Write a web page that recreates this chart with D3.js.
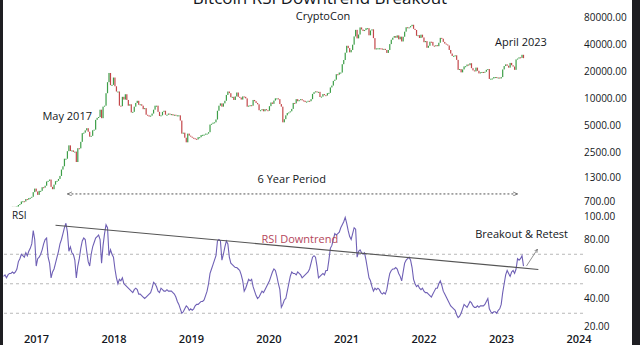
<!DOCTYPE html>
<html>
<head>
<meta charset="utf-8">
<script src="https://cdn.jsdelivr.net/npm/d3@7"></script>
<style>
  body { margin: 0; background: #fff; }
  svg { display: block; font-family: "Open Sans", sans-serif; }
</style>
</head>
<body>
<div id="chart"></div>
<script>
// weekly candles, first week starts on this monday
const weekStart = "2016-08-01";
const firstOpen = 600;

// weekly closes (USD), one row per year
const closes = [
  590, 570, 580, 575, 608, 608, 610, 605, 610, 615, 640, 655, 700, 705, 700, 745, 735, 765, 770, 790, 890, 975,
  905, 830, 920, 920, 1010, 1000, 1050, 1170, 1190, 1230, 1020, 960, 1080, 1180, 1190, 1250, 1350, 1590, 1730, 2100, 2100, 2550,
  2960, 2560, 2600, 2500, 2520, 1930, 2750, 2740, 3240, 4050, 4100, 4350, 4600, 4200, 3700, 3780, 4360,
  4430, 5700, 6000, 6130, 7400, 5950, 8000, 8200, 11300, 15000, 19000, 13900, 14000,
  16900, 13500, 11800, 11800, 8200, 8100, 10300, 9600, 11000, 9500, 8200, 8500, 6900, 7000, 8000, 8800, 9300, 8400,
  8500, 8200, 7500, 7700, 6500, 6400, 6200, 6350, 6700, 7400, 8200, 8200, 7000, 6300, 6400, 7000, 7200,
  6500, 6500, 6700, 6600, 6600, 6400, 6500, 6400, 6400, 6400, 5600, 4000, 4100, 3600, 3200, 4000, 3800, 3700,
  3600, 3550, 3500, 3450, 3650, 3650, 3850, 3880, 3900, 4000, 4000, 4150, 5050, 5150, 5300, 5350, 5750,
  7200, 8200, 8700, 8000, 8700, 9300, 10800, 11800, 11300, 10200, 10300, 9500, 10400, 11500, 10300, 10100, 9600,
  10400, 10300, 9900, 8000, 8200, 8300, 8200, 9500, 9200, 8800, 8500, 7300, 7300, 7500, 7100, 7500, 7300, 7200,
  8100, 8900, 8600, 9350, 9900, 9900, 9700, 8550, 8000, 5350, 5800, 6400, 6800, 6900, 7100, 7550, 8800,
  8700, 9700, 9200, 9450, 9700, 9400, 9300, 9000, 9100, 9300, 9200, 9700, 11100, 11600, 11850, 11650, 11700, 10250,
  10350, 11050, 10750, 10650, 11300, 11400, 13100, 13750, 15500, 16000, 18400, 18200, 19200, 19200, 23800, 26500, 32000,
  38200, 36000, 32300, 34300, 39300, 48600, 57500, 46200, 51000, 61200, 58100, 55800, 57200, 60000, 60000, 50000, 56600,
  58300, 46500, 34800, 35700, 35800, 35800, 35600, 34600, 35300, 34300, 31800, 34300, 39900, 44600, 47000, 49000, 47000, 49900,
  45100, 48300, 42700, 48200, 54900, 61500, 61000, 61300, 63300, 65500, 59000, 57300, 49400, 50100, 46700, 50800, 47300,
  41900, 43100, 36300, 38200, 42400, 42200, 38300, 37700, 38800, 37800, 41300, 46800, 45800, 42200, 40400, 39500, 38500,
  34300, 31300, 29400, 29500, 29900, 26600, 20600, 21000, 19300, 20800, 22500, 22600, 23600, 23200, 24400, 21500, 20300, 19800,
  21800, 20100, 18800, 19300, 19500, 19200, 19600, 20600, 21000, 16300, 16400, 16500, 17100, 17100, 16800, 16900, 16500,
  17100, 20800, 22700, 23700, 22900, 21800, 24600, 23200, 22400, 20600, 26900, 27500, 28400, 28000, 30300, 27800
];

// weekly RSI, same weeks as closes
const rsi = [
  55, 56, 54, 56, 57, 57, 58, 57, 58, 60, 65, 67, 70, 69, 68, 71, 69, 72, 74, 77, 86, 80,
  62, 67, 68, 70, 73, 77, 80, 81, 68, 64, 54, 58, 60, 64, 68, 72, 77, 80, 84, 88, 91, 85,
  72, 75, 71, 70, 66, 54, 62, 67, 74, 79, 81, 80, 72, 65, 62, 70, 75,
  78, 81, 82, 83, 80, 64, 76, 84, 90, 88, 69, 73, 70,
  68, 60, 54, 50, 53, 52, 54, 50, 49, 48, 47, 46, 45, 44, 46, 47, 46, 43,
  43, 42, 41, 40, 41, 42, 43, 44, 47, 51, 50, 48, 45, 44, 47, 46, 45,
  45, 46, 45, 45, 45, 44, 43, 41, 38, 36, 33, 30, 31, 33, 35, 34, 32, 33,
  32, 33, 35, 36, 36, 37, 38, 38, 39, 42, 45, 50, 57, 60, 63, 66, 69,
  79, 80, 79, 66, 70, 75, 79, 77, 68, 64, 63, 62, 61, 61, 60, 59, 56,
  52, 45, 47, 50, 53, 52, 53, 48, 45, 42, 40, 41, 43, 45, 44, 46, 48, 50,
  52, 55, 58, 60, 59, 55, 50, 46, 34, 36, 39, 40, 45, 50, 55, 58, 57,
  57, 56, 58, 57, 56, 54, 55, 56, 57, 58, 60, 64, 68, 69, 68, 62, 54, 55,
  56, 57, 56, 59, 59, 66, 74, 76, 80, 84, 83, 84, 85, 88, 90, 92, 95,
  91, 86, 82, 80, 84, 88, 87, 68, 72, 73, 71, 70, 71, 66, 60, 54, 52,
  48, 45, 47, 46, 47, 46, 44, 43, 44, 43, 46, 52, 57, 59, 60, 60, 61, 60,
  57, 55, 52, 58, 64, 66, 67, 68, 66, 61, 53, 50, 48, 49, 47, 46, 47,
  45, 44, 44, 43, 42, 41, 43, 45, 47, 47, 50, 52, 49, 45, 43, 41, 39,
  37, 35, 34, 33, 32, 29, 27, 28, 30, 33, 36, 35, 34, 36, 38, 37, 35, 34,
  34, 35, 34, 35, 35, 35, 36, 38, 40, 33, 31, 30, 31, 31, 30, 32, 33,
  36, 44, 50, 56, 59, 57, 55, 58, 59, 57, 60, 67, 66, 67, 69, 62
];

const priceTicks = [80000, 40000, 20000, 10000, 5000, 2500, 1300, 700];
const rsiTicks = [100, 80, 60, 40, 20];
const rsiLevels = [70, 50, 30];
const years = [2017, 2018, 2019, 2020, 2021, 2022, 2023, 2024];

// annotations, anchored in data space
const trendline = [{ date: "2017-04-03", v: 89.7 }, { date: "2023-06-26", v: 59.7 }];
const periodLine = [{ date: "2017-05-29", v: 850 }, { date: "2023-03-20", v: 850 }];
const breakoutArrow = [{ date: "2023-05-01", v: 62 }, { date: "2023-06-22", v: 73.5 }];
const priceNotes = [
  { text: "May 2017", date: "2017-05-28", v: 6200 },
  { text: "April 2023", date: "2023-04-05", v: 41000 },
  { text: "6 Year Period", date: "2020-04-20", v: 1220 }
];
const rsiNotes = [
  { text: "RSI Downtrend", date: "2020-05-28", v: 79.7, color: "#b5485c" },
  { text: "Breakout & Retest", date: "2023-04-08", v: 83, color: "#131722" }
];

const width = 640, height = 345;
const parse = d3.utcParse("%Y-%m-%d");
const t0 = parse(weekStart);

const candles = closes.map((c, i) => ({
  date: d3.utcDay.offset(t0, i * 7),
  open: i === 0 ? firstOpen : closes[i - 1],
  close: c
}));
const rsiData = rsi.map((v, i) => ({ date: d3.utcDay.offset(t0, i * 7), v }));

const svg = d3.select("#chart").append("svg")
  .attr("width", width).attr("height", height)
  .attr("viewBox", [0, 0, width, height]);

const x = d3.scaleUtc()
  .domain([Date.UTC(2017, 0, 1), Date.UTC(2023, 0, 1)])
  .range([36, 501]);

const y = d3.scaleLog()
  .domain([700, 80000])
  .range([201.5, 17]);

const yR = d3.scaleLinear()
  .domain([20, 100])
  .range([328, 210]);

svg.append("defs").append("clipPath").attr("id", "pclip")
  .append("rect").attr("x", 3).attr("y", 0).attr("width", 580).attr("height", 207);
svg.select("defs").append("marker")
  .attr("id", "arr").attr("viewBox", "0 0 10 10").attr("refX", 9).attr("refY", 5)
  .attr("markerWidth", 5).attr("markerHeight", 5).attr("orient", "auto-start-reverse")
  .append("path").attr("d", "M0,1L9,5L0,9").attr("fill", "none").attr("stroke", "#666").attr("stroke-width", 1.5);

// title (top is cut off in the reference)
svg.append("text").attr("x", 320).attr("y", 4).attr("text-anchor", "middle")
  .attr("font-size", 17).attr("fill", "#131722").text("Bitcoin RSI Downtrend Breakout");
svg.append("text").attr("x", 323).attr("y", 20).attr("text-anchor", "middle")
  .attr("font-size", 11).attr("fill", "#131722").text("CryptoCon");

// candles
const cg = svg.append("g").attr("clip-path", "url(#pclip)");
cg.selectAll("rect")
  .data(candles)
  .join("rect")
  .attr("x", d => x(d.date) - 0.6)
  .attr("width", 1.2)
  .attr("y", d => y(Math.max(d.open, d.close)))
  .attr("height", d => Math.max(1, Math.abs(y(d.open) - y(d.close))))
  .attr("fill", d => d.close >= d.open ? "#3c9e47" : "#c4474a");

// 6 year period dotted line
svg.append("line")
  .attr("x1", x(parse(periodLine[0].date))).attr("y1", y(periodLine[0].v))
  .attr("x2", x(parse(periodLine[1].date))).attr("y2", y(periodLine[1].v))
  .attr("stroke", "#555").attr("stroke-width", 1).attr("stroke-dasharray", "2,2")
  .attr("marker-start", "url(#arr)").attr("marker-end", "url(#arr)");

svg.append("g").selectAll("text")
  .data(priceNotes)
  .join("text")
  .attr("x", d => x(parse(d.date))).attr("y", d => y(d.v))
  .attr("text-anchor", "middle").attr("dominant-baseline", "middle")
  .attr("font-size", 11).attr("fill", "#131722")
  .text(d => d.text);

// RSI pane
svg.append("text").attr("x", 12).attr("y", 219).attr("font-size", 10).attr("fill", "#131722").text("RSI");

svg.append("g").selectAll("line")
  .data(rsiLevels)
  .join("line")
  .attr("x1", 4).attr("x2", 583)
  .attr("y1", d => yR(d)).attr("y2", d => yR(d))
  .attr("stroke", "#b8b8b8").attr("stroke-dasharray", "3,3");

svg.append("path")
  .datum(rsiData)
  .attr("fill", "none").attr("stroke", "#6f60b5").attr("stroke-width", 1.1)
  .attr("d", d3.line().x(d => x(d.date)).y(d => yR(d.v)));

svg.append("line")
  .attr("x1", x(parse(trendline[0].date))).attr("y1", yR(trendline[0].v))
  .attr("x2", x(parse(trendline[1].date))).attr("y2", yR(trendline[1].v))
  .attr("stroke", "#555").attr("stroke-width", 1.1);

svg.append("line")
  .attr("x1", x(parse(breakoutArrow[0].date))).attr("y1", yR(breakoutArrow[0].v))
  .attr("x2", x(parse(breakoutArrow[1].date))).attr("y2", yR(breakoutArrow[1].v))
  .attr("stroke", "#777").attr("stroke-width", 0.8).attr("marker-end", "url(#arr)");

svg.append("g").selectAll("text")
  .data(rsiNotes)
  .join("text")
  .attr("x", d => x(parse(d.date))).attr("y", d => yR(d.v))
  .attr("text-anchor", "middle").attr("dominant-baseline", "middle")
  .attr("font-size", 11).attr("fill", d => d.color)
  .text(d => d.text);

// right axes
const fmt = d3.format(".2f");
const pAxis = svg.append("g").attr("transform", "translate(580,0)")
  .call(d3.axisRight(y).tickValues(priceTicks).tickFormat(fmt).tickSize(0).tickPadding(4));
const rAxis = svg.append("g").attr("transform", "translate(580,0)")
  .call(d3.axisRight(yR).tickValues(rsiTicks).tickFormat(fmt).tickSize(0).tickPadding(4));
[pAxis, rAxis].forEach(g => {
  g.select(".domain").remove();
  g.selectAll("text").attr("font-size", 10).attr("fill", "#131722").attr("font-family", "Open Sans, sans-serif");
});
rAxis.selectAll(".tick").filter(d => d === 100).select("text").attr("dy", "0.9em");
rAxis.selectAll(".tick").filter(d => d === 20).select("text").attr("dy", "0.1em");

// time axis
const xAxis = svg.append("g").attr("transform", "translate(0,332)")
  .call(d3.axisBottom(x).tickValues(years.map(v => new Date(Date.UTC(v, 0, 1))))
    .tickFormat(d3.utcFormat("%Y")).tickSize(0).tickPadding(3));
xAxis.select(".domain").remove();
xAxis.selectAll("text").attr("font-size", 11).attr("font-weight", 600)
  .attr("fill", "#131722").attr("font-family", "Open Sans, sans-serif");

// dark frame strips at the edges of the screenshot
svg.append("rect").attr("x", 0).attr("y", 0).attr("width", 3).attr("height", height).attr("fill", "#1e1e22");
svg.append("rect").attr("x", 632).attr("y", 0).attr("width", 8).attr("height", height).attr("fill", "#1e1e22");
</script>
</body>
</html>
